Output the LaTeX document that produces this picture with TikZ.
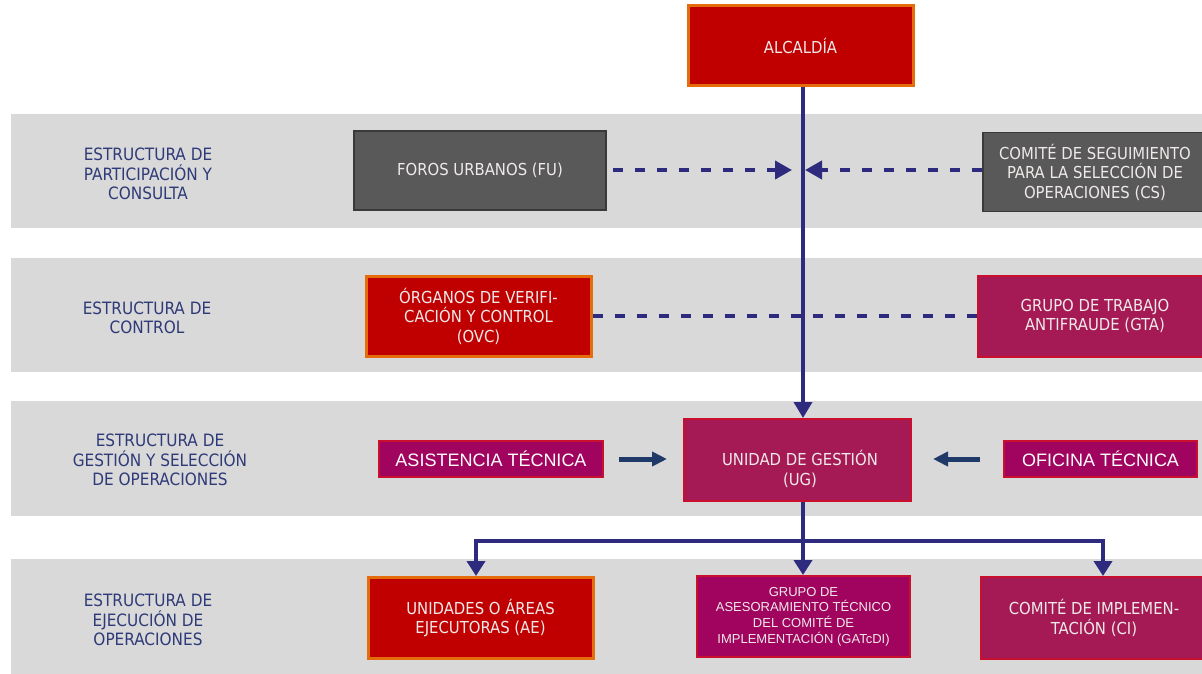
\documentclass[tikz,border=0pt]{standalone}
\usepackage{fontspec}
\setmainfont{DejaVu Sans Condensed}
\newfontfamily\arialf{Liberation Sans}
\usetikzlibrary{arrows.meta}
\definecolor{band}{HTML}{D9D9D9}
\definecolor{navy}{HTML}{2E2B7E}
\definecolor{darknavy}{HTML}{1F3A68}
\definecolor{lbl}{HTML}{2F3A78}
\definecolor{redf}{HTML}{C00000}
\definecolor{orng}{HTML}{E46C0A}
\definecolor{grayf}{HTML}{595959}
\definecolor{grayb}{HTML}{3A3A3A}
\definecolor{crim}{HTML}{A51A55}
\definecolor{mag}{HTML}{A0045E}
\definecolor{edgec}{HTML}{C8102E}
\definecolor{txt}{HTML}{EFE9E9}
\begin{document}
\begin{tikzpicture}[x=1pt,y=-1pt,
  wh/.style 2 args={minimum width=#1, minimum height=#2},
  lbltext/.style={text=lbl, font=\fontsize{17}{19.5}\selectfont, align=center, inner sep=0pt},
  boxbase/.style={rectangle, inner sep=0pt, text=txt, align=center, font=\fontsize{16.5}{19.5}\selectfont},
  redbox/.style={boxbase, fill=redf, draw=orng, line width=3pt},
  graybox/.style={boxbase, fill=grayf, draw=grayb, line width=1.5pt},
  crimbox/.style={boxbase, fill=crim, draw=edgec, line width=2pt},
  magbox/.style={boxbase, fill=mag, draw=edgec, line width=2pt},
  ariallbl/.style={text=white, font=\arialf\fontsize{18}{20}\selectfont},
  smallarial/.style={font=\arialf\fontsize{13}{15.7}\selectfont},
  mainline/.style={draw=navy, line width=3.5pt, -{Triangle[length=16pt,width=18pt]}},
  dashline/.style={draw=navy, line width=4pt, dash pattern=on 10pt off 12pt},
  dashtip/.style={-{Triangle[length=17pt,width=18pt]}},
  darr/.style={draw=darknavy, line width=5pt, -{Triangle[length=15pt,width=14pt]}},
  treeline/.style={draw=navy, line width=4pt},
  treearr/.style={treeline, -{Triangle[length=15pt,width=18pt]}}
]
\clip (0,0) rectangle (1202,674);
\fill[white] (0,0) rectangle (1202,674);
% bands
\fill[band] (11,114) rectangle (1202,228);
\fill[band] (11,258) rectangle (1202,372);
\fill[band] (11,401) rectangle (1202,516);
\fill[band] (11,559) rectangle (1202,674);
% band labels
\node[lbltext] (l1) at (148,174) {ESTRUCTURA DE\\PARTICIPACIÓN Y\\CONSULTA};
\node[lbltext] (l2) at (147,318) {ESTRUCTURA DE\\CONTROL};
\node[lbltext] (l3) at (160,460) {ESTRUCTURA DE\\GESTIÓN Y SELECCIÓN\\DE OPERACIONES};
\node[lbltext] (l4) at (148,620) {ESTRUCTURA DE\\EJECUCIÓN DE\\OPERACIONES};
% boxes
\node[redbox, wh={225}{80}] (alc) at (800.5,46) {ALCALDÍA};
\node[graybox, wh={252}{79}] (fu) at (480,170.5) {FOROS URBANOS (FU)};
\node[graybox, wh={224}{79}] (cs) at (1095,172) {COMITÉ DE SEGUIMIENTO\\PARA LA SELECCIÓN DE\\OPERACIONES (CS)};
\node[redbox, wh={225}{80}] (ovc) at (478.5,316) {ÓRGANOS DE VERIFI-\\CACIÓN Y CONTROL\\(OVC)};
\node[crimbox, wh={234}{81}] (gta) at (1095,316) {GRUPO DE TRABAJO\\ANTIFRAUDE (GTA)};
\node[magbox, ariallbl, wh={224}{36}] (at) at (491,459) {ASISTENCIA TÉCNICA};
\node[crimbox, wh={227}{82}] (ug) at (797.5,460) {};
\node[boxbase] (ugt) at (800,469) {UNIDAD DE GESTIÓN\\(UG)};
\node[magbox, ariallbl, wh={193}{36}] (ot) at (1100.5,459) {OFICINA TÉCNICA};
\node[redbox, wh={225}{81}] (ae) at (480.5,618) {UNIDADES O ÁREAS\\EJECUTORAS (AE)};
\node[magbox, smallarial, wh={213}{81}] (gat) at (803.5,616.5) {GRUPO DE\\ASESORAMIENTO TÉCNICO\\DEL COMITÉ DE\\IMPLEMENTACIÓN (GATcDI)};
\node[crimbox, wh={226}{82}] (ci) at (1094,618) {COMITÉ DE IMPLEMEN-\\TACIÓN (CI)};
% coordinates
\coordinate (vx) at (803,0);
\coordinate (fuend) at (792,170);
\coordinate (csend) at (805,170);
\coordinate (split) at (803,541);
\coordinate (lft) at (476,541);
\coordinate (rgt) at (1103,541);
% connectors
\draw[dashline] (ovc.east) -- (gta.west |- ovc.east);
\draw[mainline] (alc.south -| vx) -- (ug.north -| vx);
\draw[dashline, dashtip, shorten <=6pt] (fu.east |- fuend) -- (fuend);
\draw[dashline, dashtip] (cs.west |- csend) -- (csend);
\draw[darr] ([xshift=15pt]at.east) -- ([xshift=-16pt]at.east -| ug.west);
\draw[darr] ([xshift=-23pt]ot.west) -- ([xshift=21pt]ot.west -| ug.east);
\draw[treeline] (ug.south -| split) -- (split);
\draw[treearr] (split) -- (lft) -- (lft |- ae.north);
\draw[treearr] (split) -- (rgt) -- (rgt |- ci.north);
\draw[treearr] (split) -- (split |- gat.north);
\end{tikzpicture}
\end{document}
